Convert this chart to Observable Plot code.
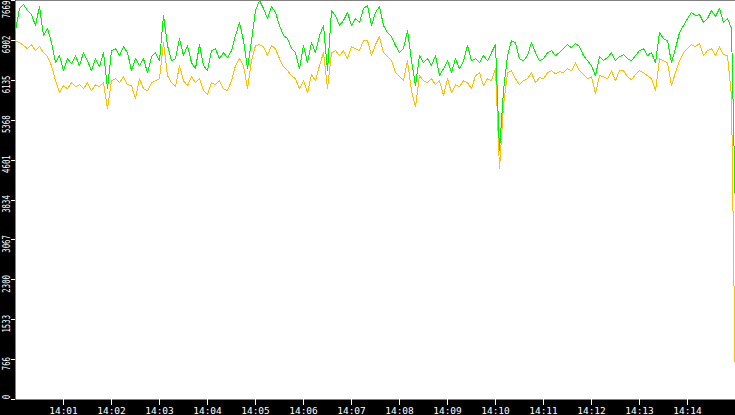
<!DOCTYPE html>
<html>
<head>
<meta charset="utf-8">
<script src="https://cdn.jsdelivr.net/npm/d3@7"></script>
<script src="https://cdn.jsdelivr.net/npm/@observablehq/plot@0.6"></script>
<style>
  html, body { margin: 0; padding: 0; background: #000; overflow: hidden; }
  #chart svg { display: block; }
</style>
</head>
<body>
<div id="chart"></div>
<script>
// ---- data ----
const startClock = "14:00:00";
const endClock = "14:15:00";
const stepSeconds = 5;

const seriesGreen = [
  7091,7515,7592,7476,7399,7187,7553,6995,7129,6860,
  6474,6609,6320,6551,6455,6609,6416,6667,6513,6320,
  6551,6397,6667,5973,6706,6744,6609,6783,6667,6320,
  6551,6416,6551,6282,6590,6667,6513,7380,6802,6513,
  6551,6937,6609,6802,6474,6359,6821,6416,6320,6706,
  6744,6551,6667,6571,6706,6995,7245,6898,6359,6898,
  7476,7669,7515,7322,7553,7438,7187,6995,6937,6744,
  6667,6359,6802,6474,6860,6667,6995,7187,6320,7476,
  7380,7187,7284,7438,7187,7322,7245,7515,7573,7187,
  7438,7553,7187,7052,6975,6802,6667,6744,7091,6513,
  6031,6609,6474,6551,6416,6609,6224,6359,6513,6282,
  6551,6359,6513,6802,6513,6551,6474,6609,6513,6667,
  6821,4779,5935,6609,6898,6860,6551,6513,6609,6860,
  6667,6513,6551,6667,6706,6609,6667,6744,6821,6763,
  6840,6783,6609,6513,6416,6224,6590,6513,6571,6667,
  6513,6590,6628,6551,6513,6609,6706,6744,6609,6667,
  6474,7052,6937,6898,6474,6744,7052,7187,7322,7438,
  7380,7399,7245,7322,7476,7361,7515,7245,7322,7129,
  3526
];

const seriesOrange = [
  6898,6860,6802,6744,6821,6706,6783,6667,6590,6416,
  6127,5896,6031,5973,6089,6012,6050,5973,6089,5935,
  6050,6012,6089,5588,6127,6166,6089,6204,6050,6031,
  5780,6166,5973,5935,6089,6127,6166,6860,6224,6089,
  6012,6416,6127,6031,6204,6089,6166,5935,5857,6089,
  6050,6127,5973,5935,6127,6416,6551,6416,5973,6513,
  6802,6821,6783,6609,6802,6744,6551,6397,6320,6224,
  6166,5973,6127,5896,6243,6127,6416,6667,5973,6667,
  6706,6609,6706,6551,6783,6744,6706,6898,6898,6609,
  6821,6975,6667,6590,6513,6282,6204,6127,6513,5935,
  5626,6224,6127,6089,6166,6050,6127,5838,6166,5896,
  6050,6012,6127,6089,5973,6224,6282,6031,6166,6127,
  6359,4432,5646,6282,6320,6166,6050,6127,6166,6282,
  6089,6185,6166,6282,6320,6262,6301,6282,6359,6320,
  6474,6320,6243,6166,6204,5877,6224,6204,6166,6320,
  6127,6320,6320,6204,6147,6243,6320,6282,6224,6166,
  5935,6551,6513,6474,6031,6282,6513,6667,6744,6821,
  6783,6840,6609,6706,6744,6609,6783,6628,6609,5838,
  0
];

const yTickValues = [0, 766, 1533, 2300, 3067, 3834, 4601, 5368, 6135, 6902, 7669];
const xTickLabels = ["14:01","14:02","14:03","14:04","14:05","14:06","14:07",
                     "14:08","14:09","14:10","14:11","14:12","14:13","14:14"];

// ---- build tables ----
const clock = s => { const [h, m, sec] = s.split(":").map(Number); return new Date(2024, 0, 1, h, m, sec || 0); };
const t0 = clock(startClock);
const t1 = clock(endClock);
const at = i => new Date(t0.getTime() + i * stepSeconds * 1000);
const greenRows = seriesGreen.map((v, i) => ({ t: at(i), v }));
const orangeRows = seriesOrange.map((v, i) => ({ t: at(i), v }));
const xTicks = xTickLabels.map(s => clock(s));
const yMax = yTickValues[yTickValues.length - 1];
const midTicks = yTickValues.slice(1, -1);

const ylab = (data, dy) => Plot.text(data, {
  y: d => d, text: d => String(d), frameAnchor: "left", dx: -9, dy, rotate: -90,
  textAnchor: "middle", lineAnchor: "middle", fill: "#fff", fontSize: 10.5, className: "ylab"
});

const plot = Plot.plot({
  width: 735,
  height: 415,
  marginLeft: 15,
  marginRight: 0,
  marginTop: 0,
  marginBottom: 16,
  style: { background: "#000", color: "#fff", fontFamily: "'DejaVu Sans Mono', monospace", fontSize: "9px" },
  x: { type: "time", domain: [t0, t1] },
  y: { domain: [0, yMax] },
  marks: [
    Plot.frame({ fill: "#fff", stroke: "none" }),
    Plot.line(orangeRows, { x: "t", y: "v", stroke: "#ffc000", strokeWidth: 1 }),
    Plot.line(greenRows, { x: "t", y: "v", stroke: "#00f000", strokeWidth: 1 }),
    Plot.axisX({ ticks: xTicks, tickFormat: d3.timeFormat("%H:%M"), tickSize: 6, tickPadding: 2, label: null, fontSize: 9.5 }),
    Plot.axisY({ ticks: yTickValues, tickSize: 4, tickFormat: () => "", label: null }),
    ylab(midTicks, 4),
    ylab([yMax], 9),
    ylab([0], -2.5)
  ]
});

// condensed y labels like the reference (compress along the text direction)
d3.select(plot).selectAll(".ylab text").each(function () {
  const tr = this.getAttribute("transform") || "";
  this.setAttribute("transform", tr + " scale(0.7,1)");
});
d3.select(plot).selectAll("path").attr("shape-rendering", "crispEdges");

document.getElementById("chart").appendChild(plot);
</script>
</body>
</html>
